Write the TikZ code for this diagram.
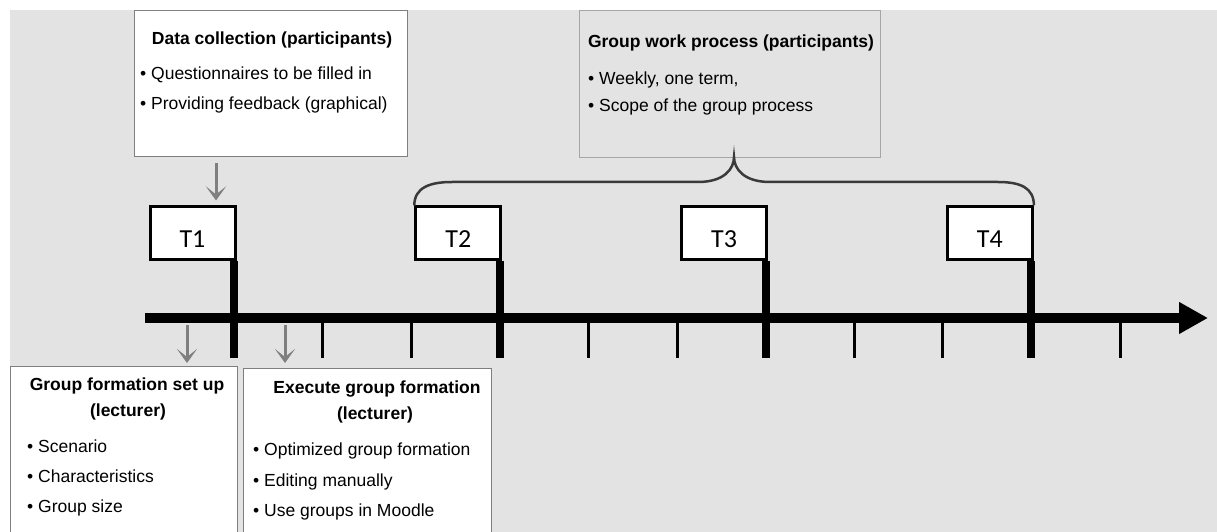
\documentclass[tikz,border=0pt]{standalone}
\usepackage{fontspec}
\setmainfont{Liberation Sans}
\newfontfamily\stampfont{Carlito}
\usetikzlibrary{arrows.meta, positioning}

\definecolor{canvas}{HTML}{E3E3E3}
\definecolor{frame}{HTML}{7F7F7F}
\definecolor{lightframe}{HTML}{A6A6A6}
\definecolor{bracecol}{HTML}{3A3A3A}
\newcommand{\txt}{\fontsize{17.5bp}{21bp}\selectfont}

\begin{document}
\begin{tikzpicture}[
        x=1bp, y=-1bp,
        note/.style={rectangle, draw=frame, line width=1.2bp, fill=white, anchor=north west, inner sep=0pt},
        head/.style={anchor=base, inner sep=0pt, font=\txt\bfseries},
        item/.style={anchor=base west, inner sep=0pt, font=\txt},
        stamp/.style={rectangle, draw, line width=3bp, fill=white, anchor=south east, minimum width=85bp, minimum height=53bp, text height=28bp, inner sep=0pt, font=\stampfont\fontsize{26bp}{30bp}\selectfont},
        pointer/.style={-{Stealth[length=14bp, width=20bp, inset=8bp]}, line width=3bp, draw=frame},
        major/.style={line width=8bp},
        minor/.style={line width=3bp},
        bracket/.style={draw=bracecol, line width=2.5bp}
    ]
        \useasboundingbox (0,0) rectangle (1217,532);
        \fill[canvas] (10,10) rectangle (1217,532);

        % boxes above the time line
        \node[note, minimum width=273bp, minimum height=146bp] (dc) at (134,10) {};
        \node[head] (dct) at (272,45) {Data collection (participants)};
        \node[item] (dc1) at (140,80) {\textbullet\ Questionnaires to be filled in};
        \node[item] (dc2) at (140,110) {\textbullet\ Providing feedback (graphical)};

        \node[note, draw=lightframe, fill=canvas, minimum width=301bp, minimum height=147bp] (gw) at (579,10) {};
        \node[head] (gwt) at (731,48) {Group work process (participants)};
        \node[item] (gw1) at (588,85) {\textbullet\ Weekly, one term,};
        \node[item] (gw2) at (588,112) {\textbullet\ Scope of the group process};

        % boxes below the time line
        \node[note, minimum width=227bp, minimum height=180bp] (gf) at (10,366) {};
        \node[head] (gft) at (127,390) {Group formation set up};
        \node[head] (gfl) at (128,416) {(lecturer)};
        \node[item] (gf1) at (27,452) {\textbullet\ Scenario};
        \node[item] (gf2) at (27,482) {\textbullet\ Characteristics};
        \node[item] (gf3) at (27,512) {\textbullet\ Group size};

        \node[note, minimum width=248bp, minimum height=180bp] (ex) at (243,368) {};
        \node[head] (ext) at (377,393) {Execute group formation};
        \node[head] (exl) at (375,419) {(lecturer)};
        \node[item] (ex1) at (253,455) {\textbullet\ Optimized group formation};
        \node[item] (ex2) at (253,486) {\textbullet\ Editing manually};
        \node[item] (ex3) at (253,516) {\textbullet\ Use groups in Moodle};

        % time line
        \coordinate (start) at (145,318);
        \coordinate (end) at (1208,318);
        \draw[line width=10bp, -{Triangle[length=29bp, width=30bp]}] (start) -- (end);
        \foreach \k in {1,2,4,5,7,8,10} {
            \pgfmathsetmacro{\tx}{234+88.6*\k}
            \draw[minor] (\tx,318) -- (\tx,358);
        }
        \foreach \k/\t in {0/1,3/2,6/3,9/4} {
            \pgfmathsetmacro{\tx}{234+88.6*\k}
            \coordinate (m\t) at (\tx,358);
            \node[stamp] (t\t) at (\tx+2.5,261.5) {T\t};
            \draw[major] (t\t.south east -| m\t) -- (m\t);
        }

        % arrows
        \coordinate (dcarrow) at (216,163);
        \coordinate (gfarrow) at (187,325);
        \coordinate (exarrow) at (285,325);
        \draw[pointer] (dcarrow) -- ([yshift=5bp]t1.north -| dcarrow);
        \draw[pointer] (gfarrow) -- ([yshift=3bp]gf.north -| gfarrow);
        \draw[pointer] (exarrow) -- ([yshift=5bp]ex.north -| exarrow);

        % brace over T2 to T4
        \coordinate (tip) at (734,157);
        \draw[bracket] (t2.north west) .. controls +(0,-18) and +(-22,0) .. (452,182)
            -- (698,182) .. controls +(26,0) and +(0,12) .. (tip)
            .. controls +(0,12) and +(-26,0) .. (770,182)
            -- (998,182) .. controls +(22,0) and +(0,-18) .. (t4.north east);
    \end{tikzpicture}
\end{document}
